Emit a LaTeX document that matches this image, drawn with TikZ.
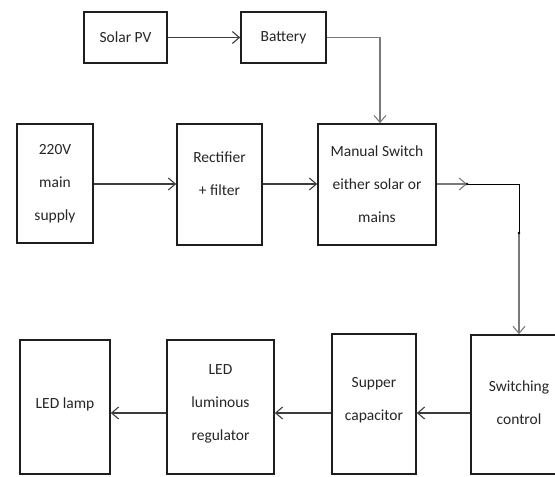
\documentclass[tikz,border=0pt]{standalone}
\usepackage{fontspec}
\setmainfont{Carlito}
\usetikzlibrary{arrows.meta}
\definecolor{boxline}{HTML}{1E1E1E}
\definecolor{conn}{HTML}{3C3C3C}
\definecolor{connlight}{HTML}{7A7A7A}
\tikzset{
  blk/.style={draw=boxline, line width=1.6pt, inner sep=0pt},
  txt/.style={align=center, inner sep=0pt, text=black!85, font=\fontsize{15.5}{33}\selectfont},
  link/.style={draw=conn, line width=1.2pt},
  arr/.style={link, -{Straight Barb[length=7pt,width=12pt,line width=1.1pt]}},
  jdot/.style={circle, fill=black, inner sep=0pt, minimum size=2.6pt}
}
\begin{document}
\begin{tikzpicture}[x=1pt,y=-1pt]
\clip (0,0) rectangle (555,477);
\fill[white] (0,0) rectangle (555,477);
% top row
\node[blk, minimum width=83pt, minimum height=51pt] (solar) at (125.5,37.5) {};
\node[txt] (solart) at (solar) {Solar PV};
\node[blk, minimum width=85pt, minimum height=51pt] (batt) at (283.5,37.5) {};
\node[txt] (battt) at (batt) {Battery};
% middle row
\node[blk, minimum width=76pt, minimum height=119pt] (mains) at (55,183.5) {};
\node[txt] (mainst) at (55,184) {220V\\main\\supply};
\node[blk, minimum width=85pt, minimum height=121pt] (rect) at (219.5,184.5) {};
\node[txt] (rectt) at (219.5,174) {Rectifier\\+ filter};
\node[blk, minimum width=118pt, minimum height=121pt] (man) at (377,184.5) {};
\node[txt] (mant) at (377,184) {Manual Switch\\either solar or\\mains};
% bottom row
\node[blk, minimum width=90pt, minimum height=134pt] (lamp) at (65,407) {};
\node[txt] (lampt) at (65,404) {LED lamp};
\node[blk, minimum width=107pt, minimum height=134pt] (reg) at (220.5,407) {};
\node[txt] (regt) at (220.5,404) {LED\\luminous\\regulator};
\node[blk, minimum width=84pt, minimum height=140pt] (cap) at (374,404) {};
\node[txt] (capt) at (374,400) {Supper\\capacitor};
\node[blk, minimum width=96pt, minimum height=139pt] (sw) at (519,404.5) {};
\node[txt] (swt) at (519,403) {Switching\\control};
% connectors
\draw[arr] (solar.east) -- (batt.west);
\draw[arr, draw=connlight] (batt.east) -| (380,0 |- man.north) coordinate (mtop);
\draw[arr] (mains.east |- 0,184) -- (rect.west |- 0,184);
\draw[arr] (rect.east |- 0,184) -- (man.west |- 0,184);
\coordinate (j1) at (467,184);
\coordinate (j2) at (519,184);
\coordinate (j3) at (519,233);
\draw[arr, draw=connlight] (man.east |- j1) -- (j1);
\draw[draw=black, line width=0.8pt] (j1) -- (j2) -- (j3);
\draw[arr, draw=connlight] (j3) -- (sw.north);
\node[jdot] (d1) at (j1) {};
\node[jdot] (d2) at (j3) {};
\draw[arr] (sw.west |- 0,413) -- (cap.east |- 0,413);
\draw[arr] (cap.west |- 0,413) -- (reg.east |- 0,413);
\draw[arr] (reg.west |- 0,413) -- (lamp.east |- 0,413);
\end{tikzpicture}
\end{document}
